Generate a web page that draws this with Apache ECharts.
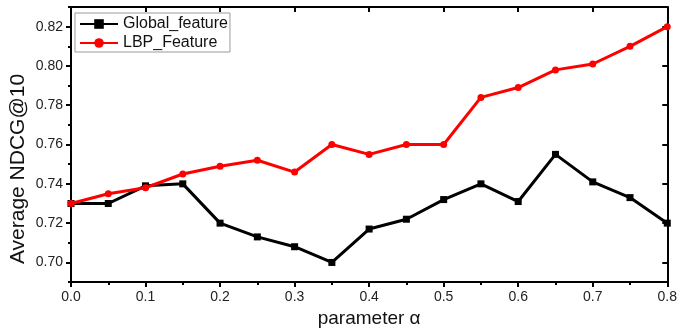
<!DOCTYPE html>
<html>
<head>
<meta charset="utf-8">
<script src="https://cdn.jsdelivr.net/npm/echarts@6/dist/echarts.min.js"></script>
<style>
html,body{margin:0;padding:0;background:#fff;}
#chart{width:680px;height:333px;}
</style>
</head>
<body>
<div id="chart"></div>
<script>
const alphas = [0.0,0.05,0.1,0.15,0.2,0.25,0.3,0.35,0.4,0.45,0.5,0.55,0.6,0.65,0.7,0.75,0.8];
const globalFeature = [0.730,0.730,0.739,0.740,0.720,0.713,0.708,0.700,0.717,0.722,0.732,0.740,0.731,0.755,0.741,0.733,0.720];
const lbpFeature = [0.730,0.735,0.738,0.745,0.749,0.752,0.746,0.760,0.755,0.760,0.760,0.784,0.789,0.798,0.801,0.810,0.820];
const yMajorTicks = [0.70,0.72,0.74,0.76,0.78,0.80,0.82];
const yMinorTicks = [0.69,0.71,0.73,0.75,0.77,0.79,0.81,0.83];
const seriesNames = ['Global_feature','LBP_Feature'];
const yTitle = 'Average NDCG@10';
const xTitle = 'parameter α';

const font = 'Liberation Sans, Arial, sans-serif';
const chart = echarts.init(document.getElementById('chart'), null, {renderer:'canvas'});
const yBase = {
  type:'value', min:0.69, max:0.83, gridIndex:0
};
chart.setOption({
  animation:false,
  backgroundColor:'#fff',
  grid:{left:71,right:9,top:7,bottom:46,containLabel:false},
  legend:{
    orient:'vertical', left:75, top:13,
    data:seriesNames,
    itemWidth:38, itemHeight:12, itemGap:3,
    padding:[3,2,1,4],
    borderColor:'#9a9a9a', borderWidth:1,
    textStyle:{fontFamily:font,fontSize:16,color:'#111',lineHeight:16}
  },
  graphic:[{
    type:'text', x:18, y:169, rotation:Math.PI/2, silent:true,
    style:{text:yTitle, font:'21px ' + font, fill:'#111', align:'center', verticalAlign:'middle'}
  }],
  xAxis:[{
    type:'value', min:0, max:0.8, interval:0.1,
    name:xTitle, nameLocation:'middle', nameGap:24,
    nameTextStyle:{fontFamily:font,fontSize:19,color:'#111'},
    axisLine:{show:true,onZero:false,lineStyle:{color:'#000',width:2}},
    axisTick:{show:true,inside:false,length:5,lineStyle:{color:'#000',width:2}},
    minorTick:{show:true,splitNumber:2,length:3,lineStyle:{color:'#000',width:2}},
    axisLabel:{fontFamily:font,fontSize:14,color:'#222',margin:8,formatter:v=>v.toFixed(1)},
    splitLine:{show:false}
  },{
    type:'value', min:0, max:0.8, interval:0.1, position:'top',
    axisLine:{show:true,onZero:false,lineStyle:{color:'#000',width:2}},
    axisTick:{show:true,inside:true,length:5,lineStyle:{color:'#000',width:2}},
    axisLabel:{show:false}, splitLine:{show:false}
  }],
  yAxis:[Object.assign({},yBase,{
    position:'left',
    axisLine:{show:true,onZero:false,lineStyle:{color:'#000',width:2}},
    axisTick:{show:true,inside:false,length:5,customValues:yMajorTicks,lineStyle:{color:'#000',width:2}},
    axisLabel:{fontFamily:font,fontSize:14,color:'#222',margin:8,customValues:yMajorTicks,formatter:v=>v.toFixed(2)},
    splitLine:{show:false}
  }),Object.assign({},yBase,{
    position:'left',
    axisLine:{show:false},
    axisTick:{show:true,inside:false,length:3,customValues:yMinorTicks,lineStyle:{color:'#000',width:2}},
    axisLabel:{show:false}, splitLine:{show:false}
  }),Object.assign({},yBase,{
    position:'right',
    axisLine:{show:true,onZero:false,lineStyle:{color:'#000',width:2}},
    axisTick:{show:true,inside:true,length:5,customValues:yMajorTicks,lineStyle:{color:'#000',width:2}},
    axisLabel:{show:false}, splitLine:{show:false}
  })],
  series:[{
    name:seriesNames[0], type:'line', xAxisIndex:0, yAxisIndex:0,
    data:alphas.map((a,i)=>[a,globalFeature[i]]),
    symbol:'rect', symbolSize:7, showAllSymbol:true,
    lineStyle:{color:'#000',width:3}, itemStyle:{color:'#000'}, z:3
  },{
    name:seriesNames[1], type:'line', xAxisIndex:0, yAxisIndex:0,
    data:alphas.map((a,i)=>[a,lbpFeature[i]]),
    symbol:'circle', symbolSize:7, showAllSymbol:true,
    lineStyle:{color:'#ff0000',width:3}, itemStyle:{color:'#ff0000'}, z:4
  }]
});
</script>
</body>
</html>
